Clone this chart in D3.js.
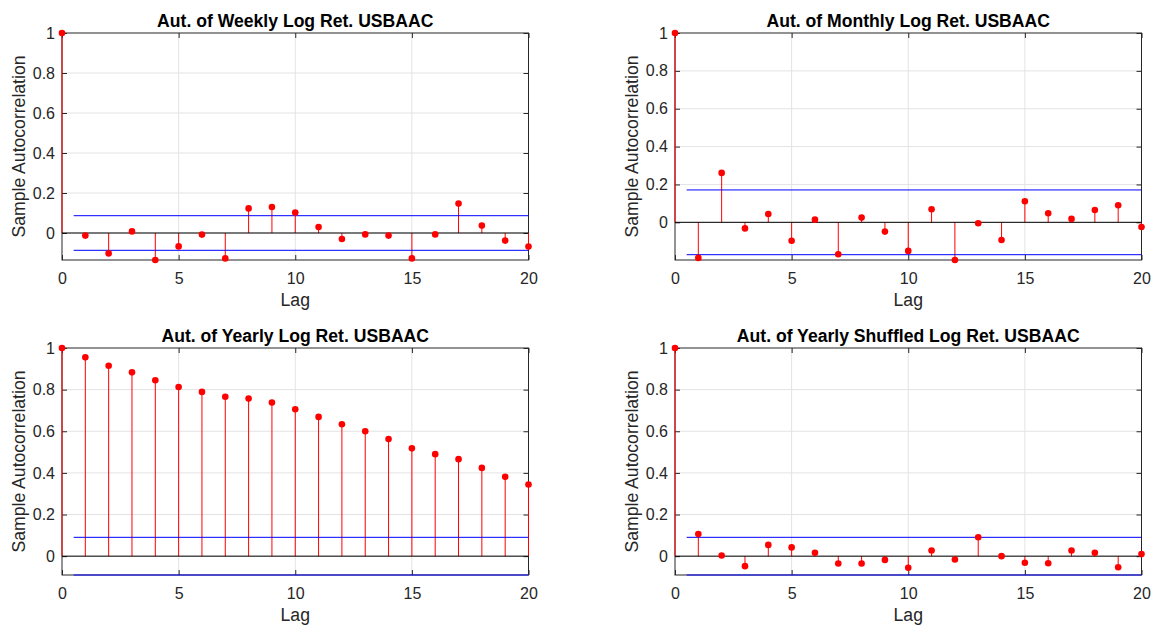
<!DOCTYPE html>
<html>
<head>
<meta charset="utf-8">
<script src="https://cdn.jsdelivr.net/npm/d3@7"></script>
<style>
  html, body { margin: 0; padding: 0; background: #ffffff; }
  svg { display: block; font-family: "Liberation Sans", Arial, Helvetica, sans-serif; }
</style>
</head>
<body>
<svg id="chart" width="1155" height="625"></svg>
<script>
// Lags shown on every correlogram
const lags = [0, 1, 2, 3, 4, 5, 6, 7, 8, 9, 10, 11, 12, 13, 14, 15, 16, 17, 18, 19, 20];

// Sample autocorrelations per lag
const weeklyAcf = [1, -0.013, -0.102, 0.008, -0.135, -0.067, -0.008, -0.127, 0.123, 0.130, 0.102,
                   0.030, -0.030, -0.007, -0.013, -0.127, -0.007, 0.147, 0.037, -0.038, -0.068];
const monthlyAcf = [1, -0.188, 0.261, -0.032, 0.044, -0.097, 0.014, -0.169, 0.025, -0.049, -0.151,
                    0.069, -0.199, -0.005, -0.093, 0.111, 0.048, 0.018, 0.065, 0.090, -0.025];
const yearlyAcf = [1, 0.955, 0.915, 0.883, 0.845, 0.813, 0.789, 0.766, 0.757, 0.738, 0.706,
                   0.669, 0.634, 0.600, 0.563, 0.518, 0.490, 0.466, 0.424, 0.381, 0.344];
const shuffledAcf = [1, 0.106, 0.003, -0.048, 0.054, 0.042, 0.016, -0.035, -0.035, -0.018, -0.056,
                     0.027, -0.016, 0.091, 0.000, -0.032, -0.034, 0.027, 0.016, -0.053, 0.010];

// Approximate 95% confidence bounds
const weeklyBound = 0.0865;
const monthlyBound = 0.171;
const yearlyBound = 0.0905;
const shuffledBound = 0.0905;

const titles = [
  "Aut. of Weekly Log Ret. USBAAC",
  "Aut. of Monthly Log Ret. USBAAC",
  "Aut. of Yearly Log Ret. USBAAC",
  "Aut. of Yearly Shuffled Log Ret. USBAAC"
];
const xTicks = [0, 5, 10, 15, 20];
const yTicks = [0, 0.2, 0.4, 0.6, 0.8, 1];
const xLabel = "Lag";
const yLabel = "Sample Autocorrelation";

const series = [weeklyAcf, monthlyAcf, yearlyAcf, shuffledAcf];
const bounds = [weeklyBound, monthlyBound, yearlyBound, shuffledBound];

// 2x2 grid of axes
const lefts = [62, 675];
const tops = [33, 348];
const plotW = 466.5;
const plotH = 227;

const AX = "#262626";
const GRID = "#e3e3e3";
const RED = "#ff0000";
const BLUE = "#0000ff";

const svg = d3.select("#chart");

series.forEach((acf, i) => {
  const left = lefts[i % 2];
  const top = tops[Math.floor(i / 2)];
  const bound = bounds[i];
  const yMin = Math.min(d3.min(acf), -bound);

  const x = d3.scaleLinear().domain([0, 20]).range([left, left + plotW]);
  const y = d3.scaleLinear().domain([yMin, 1]).range([top + plotH, top]);

  const g = svg.append("g");

  // grid
  g.append("g").selectAll("line.gx").data(xTicks.slice(1, -1)).join("line")
    .attr("x1", d => x(d)).attr("x2", d => x(d))
    .attr("y1", top).attr("y2", top + plotH)
    .attr("stroke", GRID).attr("stroke-width", 1);
  g.append("g").selectAll("line.gy").data(yTicks.slice(0, -1)).join("line")
    .attr("x1", left).attr("x2", left + plotW)
    .attr("y1", d => y(d)).attr("y2", d => y(d))
    .attr("stroke", GRID).attr("stroke-width", 1);

  // axes with inward ticks
  const axB = d3.axisBottom(x).tickValues(xTicks).tickFormat(d3.format("d"))
    .tickSizeInner(-5).tickSizeOuter(0).tickPadding(13);
  const axT = d3.axisTop(x).tickValues(xTicks).tickFormat("")
    .tickSizeInner(-5).tickSizeOuter(0);
  const axL = d3.axisLeft(y).tickValues(yTicks).tickFormat(d => d === 0 ? "0" : (d === 1 ? "1" : d3.format(".1f")(d)))
    .tickSizeInner(-5).tickSizeOuter(0).tickPadding(7);
  const axR = d3.axisRight(y).tickValues(yTicks).tickFormat("")
    .tickSizeInner(-5).tickSizeOuter(0);

  const styleAxis = sel => {
    sel.select(".domain").remove();
    sel.selectAll(".tick line").attr("stroke", AX);
    sel.selectAll(".tick text").attr("fill", AX).style("font-size", "16px")
      .style("font-family", "'Liberation Sans', Arial, sans-serif");
  };
  g.append("g").attr("transform", `translate(0,${top + plotH})`).call(axB).call(styleAxis);
  g.append("g").attr("transform", `translate(0,${top})`).call(axT).call(styleAxis);
  g.append("g").attr("transform", `translate(${left},0)`).call(axL).call(styleAxis);
  g.append("g").attr("transform", `translate(${left + plotW},0)`).call(axR).call(styleAxis);

  // box
  g.append("rect")
    .attr("x", left).attr("y", top).attr("width", plotW).attr("height", plotH)
    .attr("fill", "none").attr("stroke", AX).attr("stroke-width", 1);

  // stems
  g.append("g").selectAll("line").data(lags).join("line")
    .attr("x1", d => x(d)).attr("x2", d => x(d))
    .attr("y1", y(0)).attr("y2", d => y(acf[d]))
    .attr("stroke", RED).attr("stroke-width", 1);

  // baseline
  g.append("line")
    .attr("x1", x(0)).attr("x2", x(20))
    .attr("y1", y(0)).attr("y2", y(0))
    .attr("stroke", "#000000").attr("stroke-width", 1);

  // confidence bounds
  g.append("g").selectAll("line").data([bound, -bound]).join("line")
    .attr("x1", x(0.5)).attr("x2", x(20))
    .attr("y1", d => y(d)).attr("y2", d => y(d))
    .attr("stroke", BLUE).attr("stroke-width", 1);

  // markers
  g.append("g").selectAll("circle").data(lags).join("circle")
    .attr("cx", d => x(d)).attr("cy", d => y(acf[d]))
    .attr("r", 3.3).attr("fill", RED);

  // title
  g.append("text")
    .attr("x", left + plotW / 2).attr("y", top - 6.5)
    .attr("text-anchor", "middle")
    .attr("fill", "#000000")
    .style("font-size", "17.6px").style("font-weight", "bold")
    .text(titles[i]);

  // axis labels
  g.append("text")
    .attr("x", left + plotW / 2).attr("y", top + plotH + 46)
    .attr("text-anchor", "middle").attr("fill", AX)
    .style("font-size", "17.6px")
    .text(xLabel);
  g.append("text")
    .attr("transform", `translate(${left - 43.5},${top + plotH / 2}) rotate(-90)`)
    .attr("text-anchor", "middle").attr("dominant-baseline", "central").attr("fill", AX)
    .style("font-size", "17.6px")
    .text(yLabel);
});
</script>
</body>
</html>
